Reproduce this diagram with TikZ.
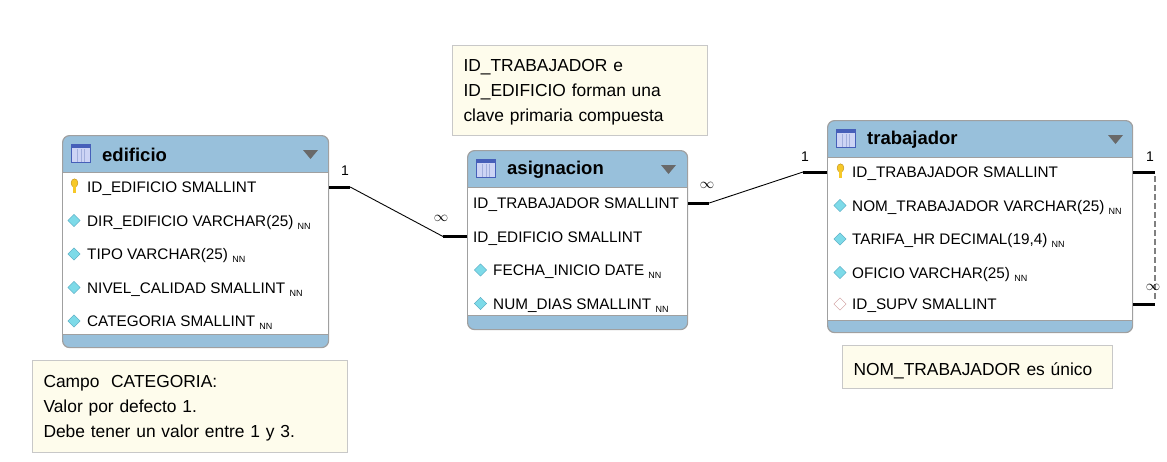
\documentclass[tikz,border=0pt]{standalone}
\usepackage{fontspec}
\setmainfont{Liberation Sans}
\usetikzlibrary{positioning,shapes.geometric,calc}

\definecolor{cabecera}{RGB}{152,192,219}
\definecolor{borde}{RGB}{160,160,160}
\definecolor{notafondo}{RGB}{254,252,236}
\definecolor{notaborde}{RGB}{200,200,200}
\definecolor{rombocian}{RGB}{125,218,232}
\definecolor{romboborde}{RGB}{80,165,190}
\definecolor{llave}{RGB}{246,200,40}
\definecolor{llaveborde}{RGB}{190,140,20}
\definecolor{icoborde}{RGB}{70,95,185}
\definecolor{icofondo}{RGB}{205,212,245}
\definecolor{triangulo}{RGB}{105,105,105}
\definecolor{supv}{RGB}{205,150,150}
\definecolor{discontgris}{RGB}{128,128,128}

\newcommand{\nn}{\raisebox{-3pt}{\fontsize{9}{9}\selectfont NN}}

\tikzset{
  tabla/.style={draw=borde, line width=1.2pt, fill=cabecera, rounded corners=7pt, inner sep=0pt, anchor=north west},
  cuerpo/.style={draw=borde, line width=1pt, fill=white, inner sep=0pt, anchor=north west},
  titulo/.style={anchor=west, inner sep=0pt, font=\fontsize{18.5}{20}\selectfont\bfseries},
  campo/.style={anchor=west, inner sep=0pt, text height=11.4pt, text depth=0pt, font=\fontsize{15.3}{17}\selectfont},
  rombo/.style={diamond, draw=romboborde, fill=rombocian, minimum width=12.5pt, minimum height=12.5pt, inner sep=0pt},
  rombovacio/.style={rombo, draw=supv, fill=white},
  icono/.style={draw=icoborde, fill=icofondo, minimum width=19pt, minimum height=18pt, inner sep=0pt,
    path picture={
      \fill[icoborde] (path picture bounding box.north west) rectangle ([yshift=-4pt]path picture bounding box.north east);
      \foreach \f in {0.3,0.5,0.7}
        \draw[icoborde!50, line width=0.8pt] ($(path picture bounding box.south west)!\f!(path picture bounding box.south east)$) -- ++(0pt,13pt);
    }},
  nota/.style={draw=notaborde, line width=1pt, fill=notafondo, anchor=north west, align=left, inner xsep=11pt,
    font=\fontsize{17.4}{25}\selectfont},
  card/.style={inner sep=0pt, font=\fontsize{14}{14}\selectfont},
  grueso/.style={line width=3pt},
  fino/.style={line width=0.9pt},
  discont/.style={discontgris, line width=2pt, dash pattern=on 6pt off 3pt}
}

\begin{document}
\begin{tikzpicture}[x=1pt,y=-1pt]
    \useasboundingbox (0,0) rectangle (1167,461);

    % edificio
    \node[tabla, minimum width=266pt, minimum height=212pt] (edificio) at (62,135) {};
    \node[cuerpo, minimum width=266pt, minimum height=162pt] (edificio-cuerpo) at (62,172) {};
    \node[icono] (e-ico) at (81,153) {};
    \node[titulo] (e-titulo) at (102,155) {edificio};
    \fill[triangulo] (303,150) -- (318,150) -- (310.5,159) -- cycle;
    \fill[llave, draw=llaveborde, line width=0.4pt] (74.5,183) ellipse (3.4 and 4.2);
    \fill[llave] (73.2,186) rectangle (75.8,193);
    \node[campo] (e-id) at (87,187) {ID\_EDIFICIO SMALLINT};
    \node[rombo] (e-dir-r) at (74,220.5) {};
    \node[campo] (e-dir) at (87,220.5) {DIR\_EDIFICIO VARCHAR(25) \nn};
    \node[rombo] (e-tipo-r) at (74,254) {};
    \node[campo] (e-tipo) at (87,254) {TIPO VARCHAR(25) \nn};
    \node[rombo] (e-nivel-r) at (74,287.5) {};
    \node[campo] (e-nivel) at (87,287.5) {NIVEL\_CALIDAD SMALLINT \nn};
    \node[rombo] (e-cat-r) at (74,321) {};
    \node[campo] (e-cat) at (87,321) {CATEGORIA SMALLINT \nn};

    % asignacion
    \node[tabla, minimum width=220pt, minimum height=179pt] (asignacion) at (467,150) {};
    \node[cuerpo, minimum width=220pt, minimum height=128pt] (asignacion-cuerpo) at (467,187) {};
    \node[icono] (a-ico) at (486,168) {};
    \node[titulo] (a-titulo) at (507,170) {asignacion};
    \fill[triangulo] (661,165) -- (676,165) -- (668.5,174) -- cycle;
    \node[campo] (a-idt) at (473,203) {ID\_TRABAJADOR SMALLINT};
    \node[campo] (a-ide) at (473,236.5) {ID\_EDIFICIO SMALLINT};
    \node[rombo] (a-fecha-r) at (480.5,270) {};
    \node[campo] (a-fecha) at (493,270) {FECHA\_INICIO DATE \nn};
    \node[rombo] (a-dias-r) at (480.5,303.5) {};
    \node[campo] (a-dias) at (493,303.5) {NUM\_DIAS SMALLINT \nn};

    % trabajador
    \node[tabla, minimum width=305pt, minimum height=212pt] (trabajador) at (827,120) {};
    \node[cuerpo, minimum width=305pt, minimum height=163pt] (trabajador-cuerpo) at (827,157) {};
    \node[icono] (t-ico) at (846,138) {};
    \node[titulo] (t-titulo) at (867,140) {trabajador};
    \fill[triangulo] (1108,135) -- (1123,135) -- (1115.5,144) -- cycle;
    \fill[llave, draw=llaveborde, line width=0.4pt] (840.5,168) ellipse (3.4 and 4.2);
    \fill[llave] (839.2,171) rectangle (841.8,178);
    \node[campo] (t-id) at (852,172) {ID\_TRABAJADOR SMALLINT};
    \node[rombo] (t-nom-r) at (840,205.5) {};
    \node[campo] (t-nom) at (852,205.5) {NOM\_TRABAJADOR VARCHAR(25) \nn};
    \node[rombo] (t-tarifa-r) at (840,239) {};
    \node[campo] (t-tarifa) at (852,239) {TARIFA\_HR DECIMAL(19,4) \nn};
    \node[rombo] (t-oficio-r) at (840,272.5) {};
    \node[campo] (t-oficio) at (852,272.5) {OFICIO VARCHAR(25) \nn};
    \node[rombovacio] (t-supv-r) at (840,304) {};
    \node[campo] (t-supv) at (852,304) {ID\_SUPV SMALLINT};

    % relaciones
    \draw[grueso] (edificio.east |- e-id) -- ++(21,0) coordinate (r1a);
    \draw[grueso] (asignacion.west |- a-ide) -- ++(-24,0) coordinate (r1b);
    \draw[fino] (r1a) -- (r1b);
    \node[card] (r1-uno) at (345,171) {1};
    \node[card] (r1-inf) at (441,218) {$\infty$};

    \draw[grueso] (asignacion.east |- a-idt) -- ++(21,0) coordinate (r2a);
    \draw[grueso] (trabajador.west |- t-id) -- ++(-24,0) coordinate (r2b);
    \draw[fino] (r2a) -- (r2b);
    \node[card] (r2-inf) at (707,185) {$\infty$};
    \node[card] (r2-uno) at (805,157) {1};

    \draw[grueso] (trabajador.east |- t-id) -- ++(22,0) coordinate (r3a);
    \draw[grueso] (trabajador.east |- t-supv) -- ++(22,0) coordinate (r3b);
    \draw[discont] ([yshift=-4pt]r3a) -- ([yshift=4pt]r3b);
    \node[card] (r3-uno) at (1150,157) {1};
    \node[card] (r3-inf) at (1153,287) {$\infty$};

    % notas
    \node[nota, text width=293pt, minimum width=315pt, minimum height=92pt] (nota-cat) at (32,360)
        {\rule{0pt}{16.5pt}Campo\ \ CATEGORIA:\\Valor por defecto 1.\\Debe tener un valor entre 1 y 3.};
    \node[nota, text width=233pt, minimum width=255pt, minimum height=90pt] (nota-clave) at (452,45)
        {\rule{0pt}{16.5pt}ID\_TRABAJADOR e\\ID\_EDIFICIO forman una\\clave primaria compuesta};
    \node[nota, text width=248pt, minimum width=270pt, minimum height=43pt] (nota-unico) at (842,345)
        {\rule{0pt}{20pt}NOM\_TRABAJADOR es único};
\end{tikzpicture}
\end{document}
